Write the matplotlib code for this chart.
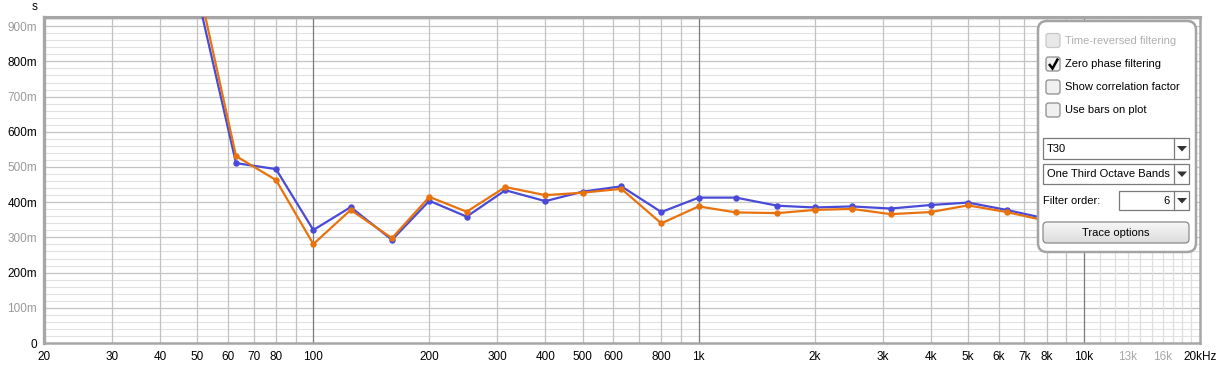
import matplotlib
matplotlib.use("Agg")
import matplotlib.pyplot as plt
import numpy as np
from matplotlib.patches import FancyBboxPatch, Rectangle, Polygon

plt.rcParams['font.family'] = ['Liberation Sans', 'DejaVu Sans']

W, H, DPI = 1222, 369, 100

# one third octave band centres and T30 per band (seconds)
freqs = [50, 63, 80, 100, 125, 160, 200, 250, 315, 400, 500, 630, 800,
         1000, 1250, 1600, 2000, 2500, 3150, 4000, 5000, 6300, 8000]
t30_blue = [0.990, 0.511, 0.494, 0.321, 0.386, 0.293, 0.404, 0.359, 0.434,
            0.403, 0.430, 0.445, 0.372, 0.413, 0.413, 0.390, 0.385, 0.388,
            0.382, 0.392, 0.399, 0.378, 0.353]
t30_orange = [1.030, 0.531, 0.463, 0.281, 0.378, 0.298, 0.415, 0.373, 0.443,
              0.420, 0.427, 0.438, 0.340, 0.388, 0.371, 0.369, 0.378, 0.381,
              0.366, 0.372, 0.391, 0.372, 0.347]

x_ticks = [20, 30, 40, 50, 60, 70, 80, 100, 200, 300, 400, 500, 600, 800,
           1000, 2000, 3000, 4000, 5000, 6000, 7000, 8000, 10000, 13000, 16000, 20000]
x_labels = ['20', '30', '40', '50', '60', '70', '80', '100', '200', '300', '400',
            '500', '600', '800', '1k', '2k', '3k', '4k', '5k', '6k', '7k', '8k',
            '10k', '13k', '16k', '20kHz']
y_ticks = [0, 0.1, 0.2, 0.3, 0.4, 0.5, 0.6, 0.7, 0.8, 0.9]
y_labels = ['0', '100m', '200m', '300m', '400m', '500m', '600m', '700m', '800m', '900m']

BLUE = '#4a4ad8'
ORANGE = '#e8730e'

fig = plt.figure(figsize=(W / DPI, H / DPI), dpi=DPI)
fig.patch.set_facecolor('white')

L, R, T, B = 44, 1200, 17, 343
ax = fig.add_axes([L / W, 1 - B / H, (R - L) / W, (B - T) / H])
ax.set_xscale('log')
ax.set_xlim(20, 20000)
ax.set_ylim(0, (B - T) / 352.0)

# grid
for d in [10, 100, 1000]:
    for m in range(2, 10):
        f = m * d
        if f < 20:
            continue
        ax.axvline(f, color='#c2c2c2', lw=0.9, zorder=1)
    ax.axvline(d * 10, color='#7a7a7a', lw=0.9, zorder=1.2)
for f in range(11000, 20000, 1000):
    ax.axvline(f, color='#dedede', lw=0.9, zorder=1)
for v in np.arange(0.02, 0.93, 0.02):
    if abs(v * 10 - round(v * 10)) < 1e-6:
        ax.axhline(v, color='#c4c4c4', lw=0.9, zorder=0.9)
    else:
        ax.axhline(v, color='#e2e2e2', lw=0.8, zorder=0.8)

ax.plot(freqs, t30_blue, color=BLUE, lw=1.6, marker='o', ms=3.6, zorder=3)
ax.plot(freqs, t30_orange, color=ORANGE, lw=1.6, marker='o', ms=3.6, zorder=3.1)

ax.set_xticks(x_ticks)
ax.set_xticklabels(x_labels)
ax.xaxis.set_minor_locator(matplotlib.ticker.NullLocator())
ax.set_yticks(y_ticks)
ax.set_yticklabels(y_labels)
ax.tick_params(axis='both', length=0, labelsize=8.5)
ax.tick_params(axis='x', pad=6)
ax.tick_params(axis='y', pad=5)
for lab in ax.get_xticklabels():
    if lab.get_text() in ('13k', '16k'):
        lab.set_color('#a8a8a8')
for i, lab in enumerate(ax.get_yticklabels()):
    lab.set_color('#000000' if i % 2 == 0 else '#9a9a9a')
for s in ax.spines.values():
    s.set_color('#a6a6a6')
    s.set_linewidth(1.8)
ax.spines['left'].set_linewidth(2.4)
ax.spines['top'].set_linewidth(2.2)

fig.text(35 / W, 1 - 7 / H, 's', fontsize=8.5, ha='center', va='center')

# options panel, drawn in pixel coordinates
PX0, PX1, PY0, PY1 = 1034, 1200, 17, 256
pa = fig.add_axes([PX0 / W, 1 - PY1 / H, (PX1 - PX0) / W, (PY1 - PY0) / H])
pa.set_xlim(PX0, PX1)
pa.set_ylim(PY1, PY0)
pa.axis('off')
pa.set_zorder(5)

pa.add_patch(FancyBboxPatch((1038, 21), 158, 231, boxstyle='round,pad=0,rounding_size=9',
                            fc='white', ec='#a4a4a4', lw=1.8))


def checkbox(y, label, checked=False, enabled=True):
    ec = '#c8c8c8' if not enabled else '#8c8c8c'
    fc = '#e8e8e8' if not enabled else '#f0f0f0'
    pa.add_patch(FancyBboxPatch((1046, y - 7), 14, 14, boxstyle='round,pad=0,rounding_size=2.5',
                                fc=fc, ec=ec, lw=0.9))
    if checked:
        pa.plot([1049, 1052.5, 1058], [y, y + 4.5, y - 5.5], color='black', lw=1.8,
                solid_capstyle='butt', solid_joinstyle='miter')
    pa.text(1065, y, label, fontsize=8, va='center', ha='left',
            color='#b0b0b0' if not enabled else 'black')


checkbox(40.5, 'Time-reversed filtering', enabled=False)
checkbox(64, 'Zero phase filtering', checked=True)
checkbox(87, 'Show correlation factor')
checkbox(110, 'Use bars on plot')


def combo(x0, x1, y0, y1, text, align='left'):
    pa.add_patch(Rectangle((x0, y0), x1 - x0, y1 - y0, fc='white', ec='#7a7a7a', lw=0.9))
    pa.plot([1174, 1174], [y0, y1], color='#7a7a7a', lw=0.9)
    cx, cy = 1182, (y0 + y1) / 2
    pa.add_patch(Polygon([[cx - 5, cy - 2.5], [cx + 5, cy - 2.5], [cx, cy + 3]],
                         closed=True, fc='#333333', ec='none'))
    if align == 'left':
        pa.text(x0 + 4, cy + 0.5, text, fontsize=8, va='center', ha='left')
    else:
        pa.text(1170, cy + 0.5, text, fontsize=8, va='center', ha='right')


combo(1043, 1189, 138, 159, 'T30')
combo(1043, 1189, 164, 184, 'One Third Octave Bands')
pa.text(1043, 201, 'Filter order:', fontsize=8, va='center', ha='left')
combo(1119, 1189, 191, 210, '6', align='right')

btn = FancyBboxPatch((1043, 222), 146, 21, boxstyle='round,pad=0,rounding_size=4',
                     fc='none', ec='#8a8a8a', lw=0.9, zorder=3)
pa.add_patch(btn)
grad = np.linspace(0.97, 0.86, 50).reshape(-1, 1)
im = pa.imshow(grad, cmap='gray', vmin=0, vmax=1, extent=(1043, 1189, 243, 222),
               aspect='auto', zorder=2)
im.set_clip_path(btn)
pa.set_xlim(PX0, PX1)
pa.set_ylim(PY1, PY0)
pa.text(1116, 233, 'Trace options', fontsize=8, va='center', ha='center', zorder=4)

fig.savefig('out.png', dpi=DPI)
